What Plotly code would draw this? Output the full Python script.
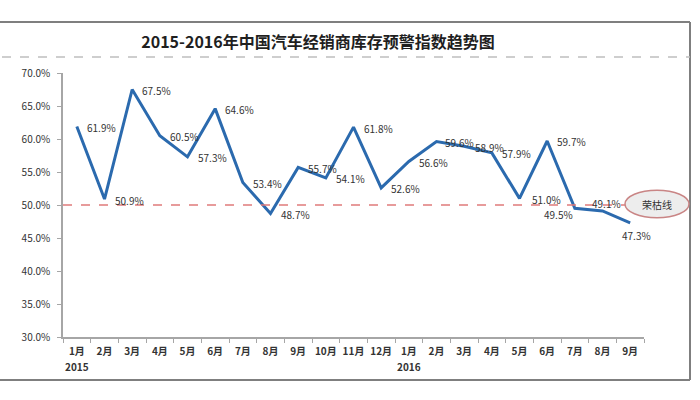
import plotly.graph_objects as go

months = ["1月", "2月", "3月", "4月", "5月", "6月", "7月", "8月", "9月", "10月", "11月", "12月",
          "1月", "2月", "3月", "4月", "5月", "6月", "7月", "8月", "9月"]
years = ["2015", "", "", "", "", "", "", "", "", "", "", "",
         "2016", "", "", "", "", "", "", "", ""]
values = [61.9, 50.9, 67.5, 60.5, 57.3, 64.6, 53.4, 48.7, 55.7, 54.1, 61.8, 52.6,
          56.6, 59.6, 58.9, 57.9, 51.0, 59.7, 49.5, 49.1, 47.3]
threshold = 50.0
threshold_label = "荣枯线"
title = "2015-2016年中国汽车经销商库存预警指数趋势图"

x = list(range(len(values)))

# label placement (style only)
lab_anchor = ["left"] * len(values)
lab_dx = [8] * len(values)
lab_dy = [-1] * len(values)
lab_dx[13] = 6
lab_dx[14] = 9
lab_dx[16] = 10
lab_anchor[18], lab_dx[18], lab_dy[18] = "right", 0, -6
lab_anchor[19], lab_dx[19], lab_dy[19] = "center", 4, 7
lab_anchor[20], lab_dx[20], lab_dy[20] = "center", 6, -13

FONT = "Noto Sans CJK SC"

fig = go.Figure()
fig.add_trace(go.Scatter(
    x=x, y=values, mode="lines",
    line=dict(color="#2B6AAE", width=3),
    hoverinfo="skip", showlegend=False,
))

L, R, T, B = 63, 644, 73, 337
def px(xp):
    return (xp - L) / (R - L)
def py(yp):
    return (B - yp) / (B - T)

shapes = [
    dict(type="line", xref="paper", yref="paper", x0=px(0), x1=px(690), y0=py(22), y1=py(22),
         line=dict(color="#7F7F7F", width=2)),
    dict(type="line", xref="paper", yref="paper", x0=px(690), x1=px(690), y0=py(22), y1=py(380),
         line=dict(color="#7F7F7F", width=2)),
    dict(type="line", xref="paper", yref="paper", x0=px(0), x1=px(690), y0=py(380), y1=py(380),
         line=dict(color="#7F7F7F", width=2)),
    dict(type="line", xref="paper", yref="paper", x0=px(2), x1=px(690), y0=py(57), y1=py(57),
         line=dict(color="#BFBFBF", width=1.5, dash="dash")),
    dict(type="line", xref="paper", yref="y", x0=0, x1=px(625), y0=threshold, y1=threshold,
         line=dict(color="#E07B7B", width=1.5, dash="dash")),
    dict(type="circle", xref="paper", yref="y", x0=px(625), x1=px(689),
         y0=threshold - 1.95, y1=threshold + 2.25,
         fillcolor="#EDEDED", line=dict(color="#C98585", width=1.5)),
]

annotations = [dict(xref="paper", yref="y", x=px(657), y=threshold + 0.15,
                    text=threshold_label, showarrow=False, xanchor="center", yanchor="middle",
                    font=dict(family=FONT, size=10, color="#333333"))]
for i, v in enumerate(values):
    annotations.append(dict(x=x[i], y=v, xref="x", yref="y", text=f"{v:.1f}%", showarrow=False,
                            xanchor=lab_anchor[i], yanchor="middle",
                            xshift=lab_dx[i], yshift=lab_dy[i],
                            font=dict(family=FONT, size=10, color="#333333")))
for i, yr in enumerate(years):
    if yr:
        annotations.append(dict(x=x[i], y=py(366), xref="x", yref="paper", text=f"<b>{yr}</b>",
                                showarrow=False, xanchor="center", yanchor="middle",
                                font=dict(family=FONT, size=10, color="#333333")))

fig.update_layout(
    width=700, height=400,
    margin=dict(l=L, r=700 - R, t=T, b=400 - B),
    paper_bgcolor="white", plot_bgcolor="white",
    title=dict(text=f"<b>{title}</b>", x=318 / 700, xanchor="center",
               y=1 - 42 / 400, yanchor="middle",
               font=dict(family=FONT, size=16, color="#1F1F1F")),
    shapes=shapes,
    annotations=annotations,
    xaxis=dict(range=[-0.5, len(values) - 0.5], tickvals=x, ticktext=months,
               showgrid=False, zeroline=False, showline=True, linecolor="#A6A6A6", linewidth=1.5,
               ticks="", ticklabelstandoff=4,
               tickfont=dict(family=FONT, size=10, color="#333333", weight="bold"),
               minor=dict(tick0=-0.5, dtick=1, ticks="outside", ticklen=4,
                          tickcolor="#A6A6A6", showgrid=False)),
    yaxis=dict(range=[30, 70], dtick=5, tickformat=".1f", ticksuffix="%",
               showgrid=False, zeroline=False, showline=True, linecolor="#A6A6A6", linewidth=1.5,
               ticks="outside", ticklen=4, tickcolor="#A6A6A6", ticklabelstandoff=5,
               tickfont=dict(family=FONT, size=10, color="#333333")),
)

fig.write_html("out.html", config={"displayModeBar": False},
               post_script="document.body.style.margin='0';")
